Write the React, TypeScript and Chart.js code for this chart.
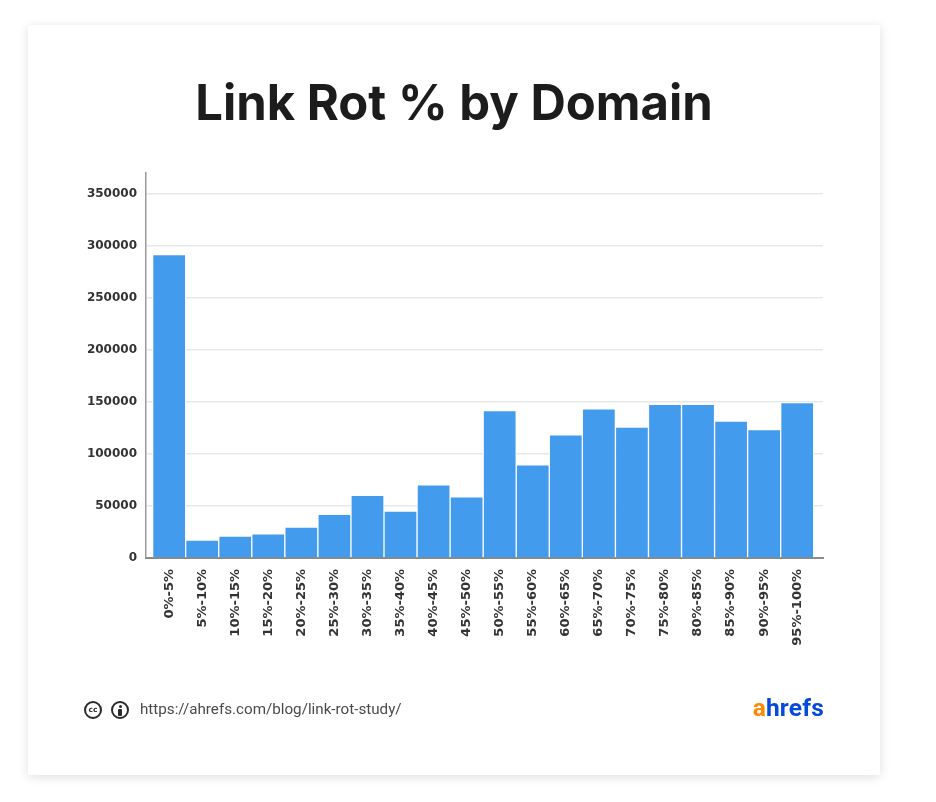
import { useEffect, useRef } from "react";
import { Chart, registerables } from "chart.js";

Chart.register(...registerables);

const categories = [
  "0%-5%", "5%-10%", "10%-15%", "15%-20%", "20%-25%", "25%-30%", "30%-35%",
  "35%-40%", "40%-45%", "45%-50%", "50%-55%", "55%-60%", "60%-65%", "65%-70%",
  "70%-75%", "75%-80%", "80%-85%", "85%-90%", "90%-95%", "95%-100%",
];
const domainCounts = [
  291500, 17300, 21100, 23300, 29800, 41900, 60200, 45100, 70400, 58900,
  141700, 89600, 118300, 143300, 125700, 147800, 147800, 131500, 123400, 149400,
];
const yTickValues = [0, 50000, 100000, 150000, 200000, 250000, 300000, 350000];
const titleText = "Link Rot % by Domain";
const sourceText = "https://ahrefs.com/blog/link-rot-study/";

const CARD = { left: 28, top: 25, width: 852, height: 750 };

export default function App() {
  const canvasRef = useRef<HTMLCanvasElement | null>(null);

  useEffect(() => {
    const canvas = canvasRef.current;
    if (!canvas) return;
    const chart = new Chart(canvas, {
      type: "bar",
      data: {
        datasets: [
          {
            label: "Domains",
            data: domainCounts.map((v, i) => ({ x: i, y: v })),
            backgroundColor: "#439BEE",
            borderColor: "#ffffff",
            borderWidth: 1,
            categoryPercentage: 1,
            barPercentage: 1,
          },
        ],
      },
      options: {
        animation: false,
        responsive: false,
        maintainAspectRatio: false,
        devicePixelRatio: 1,
        layout: { padding: { left: 0, top: 148, right: 57, bottom: 0 } },
        plugins: {
          legend: { display: false },
          tooltip: { enabled: false },
          title: { display: false },
        },
        scales: {
          x: {
            type: "linear",
            offset: false,
            min: -0.7,
            max: 19.78,
            afterBuildTicks: (scale: any) => {
              scale.ticks = categories.map((_, i) => ({ value: i }));
            },
            afterFit: (scale: any) => {
              scale.height = 217;
            },
            grid: { display: false, drawTicks: false, offset: false },
            border: { display: true, color: "#8a8a8a", width: 2 },
            ticks: {
              autoSkip: false,
              minRotation: 90,
              maxRotation: 90,
              padding: 11,
              color: "#333333",
              font: { family: "DejaVu Sans", size: 13, weight: "bold" },
              callback: (v: any) => categories[Math.round(Number(v))] ?? "",
            },
          },
          y: {
            min: 0,
            max: 370000,
            afterBuildTicks: (scale: any) => {
              scale.ticks = yTickValues.map((v) => ({ value: v }));
            },
            afterFit: (scale: any) => {
              scale.width = 118;
            },
            grid: { color: "#e8e8e8", lineWidth: 1.5, drawTicks: false },
            border: { display: true, color: "#9a9a9a", width: 1.5 },
            ticks: {
              padding: 9,
              color: "#333333",
              font: { family: "DejaVu Sans", size: 12, weight: "bold" },
              callback: (v: any) => String(v),
            },
          },
        },
      },
    });
    return () => chart.destroy();
  }, []);

  return (
    <div
      style={{
        position: "absolute",
        left: 0,
        top: 0,
        width: 936,
        height: 802,
        background: "#ffffff",
        overflow: "hidden",
      }}
    >
      <div
        style={{
          position: "absolute",
          left: CARD.left,
          top: CARD.top,
          width: CARD.width,
          height: CARD.height,
          background: "#ffffff",
          boxShadow: "0 2px 10px rgba(0,0,0,0.13)",
        }}
      >
        <canvas
          ref={canvasRef}
          width={CARD.width}
          height={CARD.height}
          style={{ position: "absolute", left: 0, top: 0, width: CARD.width, height: CARD.height }}
        />
        <div
          style={{
            position: "absolute",
            left: 0,
            top: 48,
            width: CARD.width,
            textAlign: "center",
            fontFamily: "Inter, 'Noto Sans', sans-serif",
            fontWeight: 700,
            fontSize: 49,
            lineHeight: "60px",
            color: "#1c1c1c",
          }}
        >
          {titleText}
        </div>
        <div
          style={{
            position: "absolute",
            left: 56,
            top: 676,
            display: "flex",
            gap: 9,
          }}
        >
          <div
            style={{
              width: 14,
              height: 14,
              border: "2px solid #2a2a2a",
              borderRadius: "50%",
              fontFamily: "DejaVu Sans",
              fontWeight: 700,
              fontSize: 7.5,
              lineHeight: "14px",
              textAlign: "center",
              color: "#2a2a2a",
              flex: "0 0 auto",
            }}
          >
            cc
          </div>
          <div
            style={{
              width: 14,
              height: 14,
              border: "2px solid #2a2a2a",
              borderRadius: "50%",
              position: "relative",
              flex: "0 0 auto",
            }}
          >
            <div
              style={{
                position: "absolute",
                left: 5.5,
                top: 2,
                width: 3,
                height: 3,
                borderRadius: "50%",
                background: "#2a2a2a",
              }}
            />
            <div
              style={{
                position: "absolute",
                left: 5,
                top: 5.5,
                width: 4,
                height: 7,
                borderRadius: 1,
                background: "#2a2a2a",
              }}
            />
          </div>
        </div>
        <div
          style={{
            position: "absolute",
            left: 112,
            top: 674,
            fontFamily: "Roboto, sans-serif",
            fontSize: 15.2,
            lineHeight: "20px",
            color: "#4a4a4a",
          }}
        >
          {sourceText}
        </div>
        <div
          style={{
            position: "absolute",
            right: CARD.width - 796,
            top: 668,
            fontFamily: "Roboto, sans-serif",
            fontWeight: 700,
            fontSize: 24.5,
            lineHeight: "30px",
            letterSpacing: 0.2,
          }}
        >
          <span style={{ color: "#FF8800" }}>a</span>
          <span style={{ color: "#054ADA" }}>hrefs</span>
        </div>
      </div>
    </div>
  );
}
